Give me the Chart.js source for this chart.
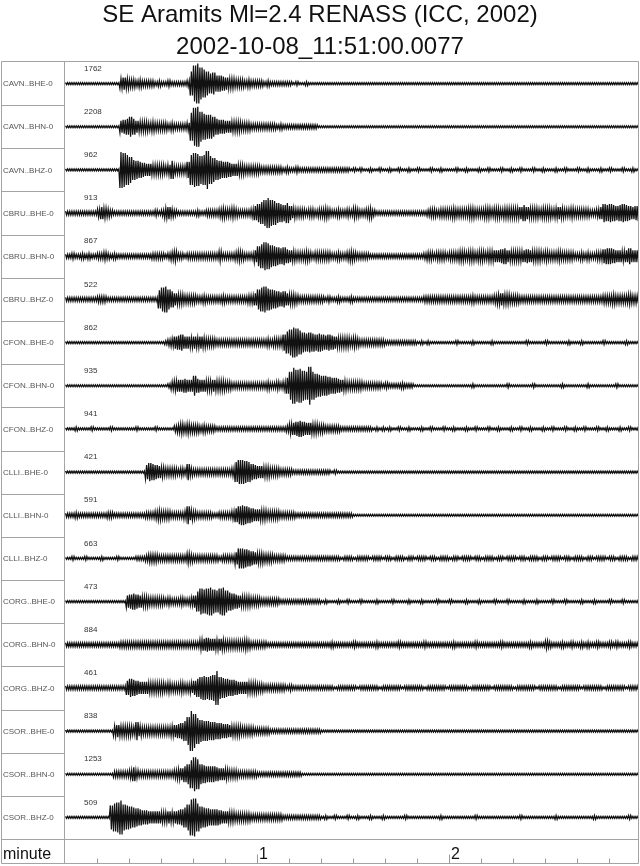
<!DOCTYPE html>
<html><head><meta charset="utf-8">
<script src="https://cdn.jsdelivr.net/npm/chart.js@4.4.0/dist/chart.umd.min.js"></script>
<style>html,body{margin:0;padding:0;background:#fff}#wrap{width:640px;height:866px;position:relative}</style>
</head><body><div id="wrap"><canvas id="c" width="640" height="866"></canvas></div>
<script>
const titleLines = ['SE Aramits Ml=2.4 RENASS (ICC, 2002)', '2002-10-08_11:51:00.0077'];
const stations = ['CAVN..BHE-0','CAVN..BHN-0','CAVN..BHZ-0','CBRU..BHE-0','CBRU..BHN-0','CBRU..BHZ-0','CFON..BHE-0','CFON..BHN-0','CFON..BHZ-0','CLLI..BHE-0','CLLI..BHN-0','CLLI..BHZ-0','CORG..BHE-0','CORG..BHN-0','CORG..BHZ-0','CSOR..BHE-0','CSOR..BHN-0','CSOR..BHZ-0'];
const peakCounts = ['1762','2208','962','913','867','522','862','935','941','421','591','663','473','884','461','838','1253','509'];
const xAxisName = 'minute';
const minuteTicks = [1, 2];
const minuteTickLabels = ['1', '2'];
const minorTickSeconds = [10,20,30,40,50,60,70,80,90,100,110,120,130,140,150,160,170];
const timeSpan = 179.1;   // seconds shown
const sampleStep = 1;     // seconds per envelope sample

// half-amplitude envelope per second (units ~ pixels of original plot)
const cavnBHE = [1,1,1,1,1, 1,1,1,1,1, 1,1,1,1,1, 1,1,5,6,5,
 4,4,3,4,3,3,3,3,2,3,2,2,3,2,2,2,2,2,3,12,
 18,20,16,14,12,10,11,8,8,7,6,5,5,4,4,4,3,4,3,3,
 3,3,2,3,2,2,2,2,2,2,2,1,2,1,1,2,1,1,1,1,
 1,1,1,1,1, 1,1,1,1,1, 1,1,1,1,1, 1,1,1,1,1,
 1,1,1,1,1, 1,1,1,1,1, 1,1,1,1,1, 1,1,1,1,1,
 1,1,1,1,1, 1,1,1,1,1, 1,1,1,1,1, 1,1,1,1,1,
 1,1,1,1,1, 1,1,1,1,1, 1,1,1,1,1, 1,1,1,1,1,
 1,1,1,1,1, 1,1,1,1,1, 1,1,1,1,1, 1,1,1,1,1];
const cavnBHN = [1,1,1,1,1, 1,1,1,1,1, 1,1,1,1,1, 1,1,6,7,8,
 10,8,6,5,5,5,4,5,4,4,4,4,3,4,3,3,3,3,4,14,
 19,20,15,13,12,12,10,8,7,7,6,6,5,5,5,4,4,4,3,3,
 3,3,3,3,3,3,2,3,2,2,2,2,2,2,2,2,2,2,2,1,
 1,1,1,1,1, 1,1,1,1,1, 1,1,1,1,1, 1,1,1,1,1,
 1,1,1,1,1, 1,1,1,1,1, 1,1,1,1,1, 1,1,1,1,1,
 1,1,1,1,1, 1,1,1,1,1, 1,1,1,1,1, 1,1,1,1,1,
 1,1,1,1,1, 1,1,1,1,1, 1,1,1,1,1, 1,1,1,1,1,
 1,1,1,1,1, 1,1,1,1,1, 1,1,1,1,1, 1,1,1,1,1];
const cavnBHZ = [1,1,1,1,1, 1,1,1,1,1, 1,1,1,1,1, 1,1,18,17,15,
 13,10,9,8,7,6,6,5,5,5,5,4,5,9,4,4,4,4,8,15,
 17,16,14,15,19,14,12,10,9,8,8,7,6,6,5,5,4,4,4,4,
 4,3,3,3,3,3,3,3,2,3,2,2,3,2,2,2,2,2,2,2,
 2,2,2,2,2,2,2,2,2,1,2,1,2,1,1,2,1,1,2,1,
 1,2,1,1,2,1,1,2,1,1,2,1,1,1,2,1,1,2,1,1,
 1,1,2,1,1,2,1,1,1,2,1,1,2,1,1,1,2,1,1,2,
 1,1,2,1,1,1,2,1,1,2,1,1,1,2,1,1,2,1,1,1,
 2,1,1,2,1,1,1,2,1,1,2,1,1,1,2,1,1,2,1,1];
const cbruBHE = [2,2,2,2,2,2,2,2,2,2,4,6,5,4,3,2,2,2,2,2,
 2,2,2,2,2,2,2,2,3,2,3,5,6,4,3,2,2,2,2,2,
 2,3,2,2,3,3,3,3,4,5,4,4,5,4,3,3,3,3,4,7,
 9,11,13,15,13,12,10,9,8,10,7,5,4,4,4,3,4,4,3,4,
 4,5,4,3,3,4,3,3,4,3,5,4,3,3,4,5,3,2,2,2,
 2,2,2,2,2,2,2,2,2,2,2,2,2,3,4,4,3,4,4,4,
 4,5,4,4,4,4,5,5,4,4,4,5,5,4,5,5,4,5,5,5,
 5,5,6,8,6,5,5,5,4,5,5,5,4,5,6,5,4,4,5,4,
 4,4,4,4,3,3,4,6,9,8,9,8,7,8,9,8,7,6,7,8];
const cbruBHN = [2,2,3,2,2,3,2,3,2,2,3,3,4,3,2,3,2,2,2,2,
 2,2,2,2,2,2,2,3,3,3,3,2,3,4,5,3,3,2,3,3,
 3,3,3,3,3,3,3,3,5,3,3,3,3,4,5,4,3,3,3,6,
 10,12,14,13,11,10,9,8,9,7,6,5,4,4,4,5,4,3,4,4,
 4,4,4,3,3,4,3,3,4,5,4,3,3,3,3,2,2,2,2,2,
 2,2,2,2,2,2,2,2,2,2,2,2,3,4,4,3,4,4,4,3,
 4,4,4,5,5,4,5,5,4,5,5,4,5,5,6,6,7,8,6,5,
 5,5,5,6,7,6,5,5,5,4,5,4,4,4,5,4,4,4,4,3,
 3,4,3,4,3,3,4,4,7,8,8,7,6,6,5,6,8,6,6,6];
const cbruBHZ = [2,2,2,2,2,2,2,2,2,2,3,3,3,2,2,2,2,2,2,2,
 2,2,2,2,2,2,2,2,2,9,12,13,10,8,6,5,5,4,4,4,
 4,3,3,4,3,3,3,3,3,4,3,3,3,3,3,3,3,4,4,6,
 10,12,13,11,10,9,8,7,8,6,5,5,4,3,3,3,3,3,3,3,
 3,2,3,2,2,3,2,2,2,3,2,2,2,2,2,2,2,2,2,2,
 2,2,2,2,2,2,2,2,2,2,2,2,3,3,3,3,3,3,3,3,
 3,3,3,3,3,3,3,4,3,3,3,3,3,3,4,5,6,5,5,4,
 4,4,3,3,3,3,3,3,3,3,3,3,3,3,3,3,3,3,3,3,
 3,3,3,3,3,3,3,3,4,4,4,5,4,4,4,4,5,4,4,4];
const cfonBHE = [1,1,1,1,1, 1,1,1,1,1, 1,1,1,1,1, 1,1,1,1,1,
 1,1,1,1,1,1,1,1,1,1,1,2,3,4,6,7,8,6,6,5,
 6,5,6,5,4,4,4,3,3,3,3,3,3,3,3,3,3,3,3,3,
 3,3,3,4,3,4,4,4,8,11,13,15,14,12,10,9,10,9,8,9,
 8,7,8,7,6,5,5,5,5,4,5,4,3,3,3,3,3,3,3,3,
 2,2,2,2,2,2,2,2,2,2,1,2,1,2,1,1,1,1,1,1,
 1,1,2,1,1,1,1,2,1,1,1,1,1,2,1,1,1,1,1,1,
 1,1,1,1,2,1,1,1,1,1,2,1,1,1,1,1,1,2,1,1,
 1,2,1,1,1,1,1,1,2,1,1,1,1,1,1,2,1,1,1,1];
const cfonBHN = [1,1,1,1,1, 1,1,1,1,1, 1,1,1,1,1, 1,1,1,1,1,
 1,1,1,1,1,1,1,1,1,1,1,1,2,4,5,6,6,7,6,6,
 10,7,6,6,5,5,6,5,5,5,4,4,3,3,3,3,3,3,3,3,
 3,3,3,4,3,3,4,3,4,8,14,18,16,17,15,14,19,14,12,11,
 10,10,9,8,8,7,6,5,4,4,4,4,4,3,3,3,3,3,3,2,
 3,2,2,2,2,3,2,2,2,1,1,1,1,1,1,1,1,1,1,1,
 1,1,1,1,1, 1,1,2,1,1, 1,1,1,1,1, 1,1,1,2,1,
 1,1,1,1,1, 1,2,1,1,1, 1,1,1,1,1, 2,1,1,1,1,
 1,1,1,2,1, 1,1,1,1,1, 1,1,2,1,1, 1,1,1,1,1];
const cfonBHZ = [1,1,1,2,1,1,1,1,2,1,1,1,1,1,2,1,1,1,1,1,
 1,1,2,1,1,1,1,1,2,1,1,1,1,1,3,4,5,4,5,4,
 4,4,3,4,3,3,3,2,2,2,2,2,2,2,2,2,2,2,2,2,
 2,2,2,2,2,2,2,2,2,3,5,6,7,8,7,6,6,5,5,4,
 4,3,3,3,3,3,2,2,2,2,2,2,2,2,2,2,1,2,1,2,
 1,2,1,1,2,1,1,2,1,1,1,2,1,1,2,1,1,1,2,1,
 1,2,1,1,1,2,1,1,2,1,1,1,2,1,1,2,1,1,1,2,
 1,1,2,1,1,2,1,1,1,2,1,1,2,1,1,1,2,1,1,2,
 1,1,2,1,1,1,2,1,1,2,1,1,1,2,1,1,2,1,1,2];
const clliBHE = [1,1,1,1,1, 1,1,1,1,1, 1,1,1,1,1, 1,1,1,1,1,
 1,1,1,1,1,7,9,8,7,6,5,4,4,4,4,3,4,3,8,4,
 3,3,3,3,3,3,3,3,3,3,3,3,4,10,12,12,11,10,8,7,
 6,6,5,5,4,4,4,3,3,3,3,2,2,2,2,2,2,2,2,2,
 2,2,2,1,2,1,1,1,1,1,1,1,1,1,1,1,1,1,1,1,
 1,1,1,1,1, 1,1,1,1,1, 1,1,1,1,1, 1,1,1,1,1,
 1,1,1,1,1, 1,1,1,1,1, 1,1,1,1,1, 1,1,1,1,1,
 1,1,1,1,1, 1,1,1,1,1, 1,1,1,1,1, 1,1,1,1,1,
 1,1,1,1,1, 1,1,1,1,1, 1,1,1,1,1, 1,1,1,1,1];
const clliBHN = [2,2,2,3,2,2,2,2,2,2,2,2,2,3,3,2,2,2,2,2,
 2,2,2,2,2,3,3,3,4,5,4,4,4,3,3,3,3,4,9,5,
 4,3,3,3,3,3,2,2,3,3,3,3,4,7,9,10,9,8,7,6,
 6,5,5,4,4,4,4,3,3,3,3,3,2,2,2,2,2,2,2,2,
 2,2,2,2,2,2,2,2,2,2,1,1,1,1,1,1,1,1,1,1,
 1,1,1,1,1, 1,1,1,1,1, 1,1,1,1,1, 1,1,1,1,1,
 1,1,1,1,1, 1,1,1,1,1, 1,1,1,1,1, 1,1,1,1,1,
 1,1,1,1,1, 1,1,1,1,1, 1,1,1,1,1, 1,1,1,1,1,
 1,1,1,1,1, 1,1,1,1,1, 1,1,1,1,1, 1,1,1,1,1];
const clliBHZ = [1,1,2,1,1,1,2,1,1,1,1,2,1,1,1,1,2,1,1,1,
 1,1,2,2,2,3,4,4,4,3,3,3,3,3,3,3,3,3,5,4,
 3,3,3,3,3,3,3,3,2,3,3,3,3,6,10,10,9,8,7,6,
 5,5,4,4,4,3,3,3,3,2,2,2,2,2,2,2,2,2,2,2,
 2,2,2,2,2,2,1,2,2,2,1,2,2,2,2,1,2,2,2,1,
 2,2,1,2,2,2,1,2,2,1,2,2,2,1,2,2,1,2,2,2,
 1,2,2,1,2,2,2,1,2,2,1,2,2,2,1,2,2,1,2,2,
 2,1,2,2,1,2,2,2,1,2,2,1,2,2,2,1,2,2,1,2,
 2,2,1,2,2,1,2,2,2,1,2,2,1,2,2,2,1,2,2,2];
const corgBHE = [1,1,1,1,1, 1,1,1,1,1, 1,1,1,1,1, 1,1,1,1,6,
 7,8,7,6,5,5,4,4,4,4,4,3,4,3,3,3,4,3,3,4,
 6,10,13,12,13,14,12,11,13,14,11,9,8,7,6,5,5,5,4,4,
 4,3,3,3,3,3,3,2,2,2,2,2,2,2,2,2,2,2,2,2,
 1,2,1,1,1,2,1,1,2,1,1,1,2,1,1,1,1,2,1,1,
 1,1,2,1,1,1,1,2,1,1,1,2,1,1,1,1,2,1,1,1,
 2,1,1,1,1,2,1,1,1,2,1,1,1,1,2,1,1,1,2,1,
 1,1,1,2,1,1,1,2,1,1,1,1,2,1,1,1,2,1,1,1,
 1,2,1,1,1,2,1,1,1,1,2,1,1,1,2,1,1,1,1,2];
const corgBHN = [2,2,2,2,2,2,2,2,2,2,2,2,2,2,2,2,2,3,3,3,
 3,3,3,3,3,3,3,3,3,3,3,3,3,3,3,3,3,3,3,3,
 3,3,5,6,7,6,6,5,6,5,4,4,4,4,4,4,5,4,3,3,
 3,3,3,2,2,2,2,2,2,2,2,2,2,2,2,2,2,2,2,2,
 2,2,2,3,2,2,2,2,2,2,3,2,2,2,2,2,2,3,2,2,
 2,2,2,2,3,2,2,2,2,2,2,2,3,2,2,2,2,2,2,2,
 2,3,2,2,2,2,2,2,3,2,2,2,2,2,2,2,3,2,2,2,
 2,2,2,2,2,3,2,2,2,2,4,3,2,2,2,3,2,2,3,2,
 2,3,2,3,2,2,3,2,2,2,3,2,3,2,2,2,3,2,2,2];
const corgBHZ = [2,2,2,2,2,2,2,2,2,2,2,2,2,2,2,2,2,2,2,7,
 9,8,7,6,6,6,5,5,5,5,5,4,5,4,4,4,5,4,4,5,
 7,9,11,12,11,12,13,17,11,10,9,8,8,7,6,6,6,5,5,5,
 4,4,3,3,3,3,3,3,3,2,3,2,2,2,2,2,2,2,2,2,
 2,2,2,2,1,2,2,2,2,2,2,1,2,2,2,2,2,2,1,2,
 2,2,2,2,2,1,2,2,2,2,2,2,1,2,2,2,2,2,2,1,
 2,2,2,2,2,2,1,2,2,2,2,2,2,1,2,2,2,2,2,2,
 1,2,2,2,2,2,2,1,2,2,2,2,2,2,1,2,2,2,2,2,
 2,1,2,2,2,2,2,2,1,2,2,2,2,2,2,1,2,2,2,2];
const csorBHE = [1,1,1,1,1, 1,1,1,1,1, 1,1,1,1,1, 5,6,5,5,5,
 5,4,9,5,4,4,4,4,4,4,4,4,4,5,6,7,8,10,14,20,
 17,13,11,10,10,9,9,8,8,7,7,6,5,5,5,4,4,4,4,3,
 3,3,3,3,2,2,2,2,2,2,2,2,2,2,2,2,2,2,2,2,
 1,1,1,1,1, 1,1,1,1,1, 1,1,1,1,1, 1,1,1,1,1,
 1,1,1,1,1, 1,1,1,1,1, 1,1,1,1,1, 1,1,1,1,1,
 1,1,1,1,1, 1,1,1,1,1, 1,1,1,1,1, 1,1,1,1,1,
 1,1,1,1,1, 1,1,1,1,1, 1,1,1,1,1, 1,1,1,1,1,
 1,1,1,1,1, 1,1,1,1,1, 1,1,1,1,1, 1,1,1,1,1];
const csorBHN = [1,1,1,1,1, 1,1,1,1,1, 1,1,1,1,1, 3,3,3,3,3,
 4,7,4,3,3,3,3,3,3,3,3,3,3,3,4,5,6,8,10,14,
 17,15,10,9,8,8,8,7,6,6,5,4,4,4,3,3,3,3,3,3,
 2,2,2,2,2,2,2,2,2,2,2,2,2,2,1,1,1,1,1,1,
 1,1,1,1,1, 1,1,1,1,1, 1,1,1,1,1, 1,1,1,1,1,
 1,1,1,1,1, 1,1,1,1,1, 1,1,1,1,1, 1,1,1,1,1,
 1,1,1,1,1, 1,1,1,1,1, 1,1,1,1,1, 1,1,1,1,1,
 1,1,1,1,1, 1,1,1,1,1, 1,1,1,1,1, 1,1,1,1,1,
 1,1,1,1,1, 1,1,1,1,1, 1,1,1,1,1, 1,1,1,1,1];
const csorBHZ = [1,1,1,1,1, 1,1,1,1,1, 1,1,1,1,12,14,15,17,13,12,
 11,10,9,8,7,7,6,6,6,6,5,5,6,5,6,7,8,10,13,18,
 19,14,11,10,9,8,8,8,7,6,6,5,5,4,4,4,4,4,3,3,
 3,3,3,3,3,3,3,3,2,2,2,2,2,2,2,2,2,2,2,2,
 1,2,1,1,2,1,1,1,2,1,1,2,1,1,1,2,1,1,1,2,
 1,1,1,1,1, 1,2,1,1,1, 1,1,1,1,1, 1,1,2,1,1,
 1,1,1,1,1, 1,1,1,2,1, 1,1,1,1,1, 1,1,1,1,1,
 1,1,2,1,1, 1,1,1,1,1, 1,1,1,2,1, 1,1,1,1,1,
 1,1,1,1,1, 2,1,1,1,1, 1,1,1,1,1, 1,2,1,1,1];

const traces = [cavnBHE,cavnBHN,cavnBHZ,cbruBHE,cbruBHN,cbruBHZ,cfonBHE,cfonBHN,cfonBHZ,clliBHE,clliBHN,clliBHZ,corgBHE,corgBHN,corgBHZ,csorBHE,csorBHN,csorBHZ];

const PX_PER_ROW = 43.14;
const FONT = '"Liberation Sans", Arial, Helvetica, sans-serif';
const SWINGS_PER_SAMPLE = 3;

// each envelope sample is drawn as swings between its maximum and minimum
const datasets = traces.map((amp, i) => {
  const pts = [];
  let k = 0;
  amp.forEach((a, s) => {
    for (let j = 0; j < SWINGS_PER_SAMPLE; j++, k++) {
      const sign = k % 2 === 0 ? 1 : -1;
      pts.push({ x: (s + (j + 0.5) / SWINGS_PER_SAMPLE) * sampleStep, y: -i + sign * a / PX_PER_ROW });
    }
  });
  return {
    label: stations[i],
    data: pts,
    borderColor: '#111',
    borderWidth: 1.25,
    pointRadius: 0,
    tension: 0,
    fill: false
  };
});

const decor = {
  id: 'decor',
  afterDraw(chart) {
    const { ctx, chartArea: ca, scales: { x, y } } = chart;
    ctx.save();
    // titles
    ctx.fillStyle = '#111';
    ctx.textAlign = 'center';
    ctx.textBaseline = 'alphabetic';
    ctx.font = '24px ' + FONT;
    ctx.fillText(titleLines[0], 320, 22);
    ctx.fillText(titleLines[1], 320, 54);

    // frame
    const L = 1.5, R = Math.round(ca.right) + 0.5, T = Math.round(ca.top) - 0.5, B = 863.5;
    const axisTop = Math.round(ca.bottom) + 0.5;
    const colX = Math.round(ca.left) - 0.5;
    ctx.strokeStyle = '#a3a3a3';
    ctx.lineWidth = 1;
    ctx.beginPath();
    ctx.rect(L, T, R - L, B - T);
    ctx.moveTo(colX, T); ctx.lineTo(colX, B);
    ctx.moveTo(L, axisTop); ctx.lineTo(R, axisTop);
    for (let i = 1; i < stations.length; i++) {
      const yy = Math.round(y.getPixelForValue(-i + 0.5)) + 0.5;
      ctx.moveTo(L, yy); ctx.lineTo(colX, yy);
    }
    ctx.stroke();

    // station labels and peak counts
    ctx.textAlign = 'left';
    ctx.textBaseline = 'middle';
    stations.forEach((s, i) => {
      const yy = y.getPixelForValue(-i);
      ctx.fillStyle = '#555';
      ctx.font = '8px ' + FONT;
      ctx.fillText(s, 3, yy + 0.5);
      ctx.fillStyle = '#333';
      ctx.font = '8px ' + FONT;
      ctx.fillText(peakCounts[i], ca.left + 19, yy - 15);
    });

    // time axis
    ctx.strokeStyle = '#999';
    ctx.beginPath();
    minorTickSeconds.forEach(t => {
      const xx = Math.round(x.getPixelForValue(t)) + 0.5;
      const major = t % 60 === 0;
      ctx.moveTo(xx, B); ctx.lineTo(xx, major ? B - 9 : B - 5);
    });
    ctx.stroke();
    ctx.fillStyle = '#111';
    ctx.font = '16px ' + FONT;
    ctx.textBaseline = 'alphabetic';
    ctx.fillText(xAxisName, 3, 859);
    minuteTicks.forEach((m, k) => {
      ctx.fillText(minuteTickLabels[k], x.getPixelForValue(m * 60) + 2, 859);
    });
    ctx.restore();
  }
};

new Chart(document.getElementById('c'), {
  type: 'line',
  data: { datasets },
  options: {
    responsive: false,
    animation: false,
    devicePixelRatio: 1,
    layout: { padding: { left: 65, right: 2, top: 62, bottom: 27 } },
    plugins: { legend: { display: false }, tooltip: { enabled: false }, title: { display: false } },
    scales: {
      x: { type: 'linear', min: 0, max: timeSpan, display: false },
      y: { type: 'linear', min: -17.5, max: 0.5, display: false }
    }
  },
  plugins: [decor]
});
</script>
</body></html>
